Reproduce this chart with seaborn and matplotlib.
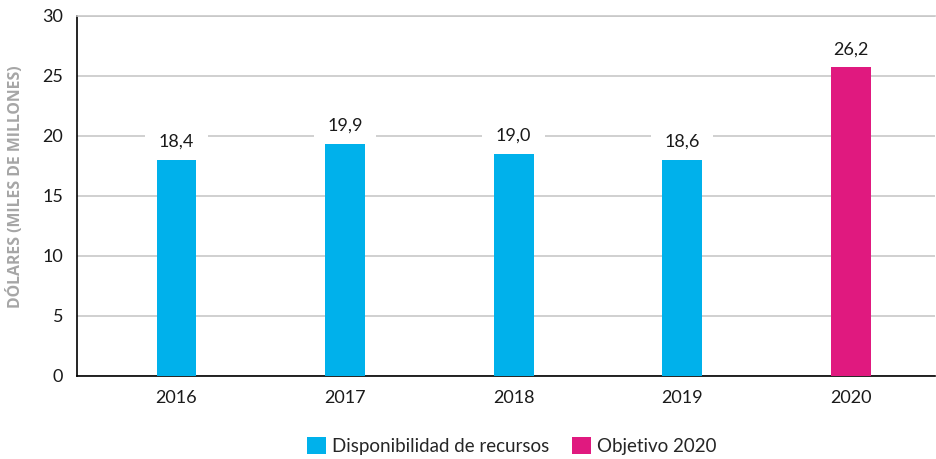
import matplotlib
matplotlib.use("Agg")
import matplotlib.pyplot as plt
import seaborn as sns
import pandas as pd
from matplotlib.patches import Patch

# datos
anios = ["2016", "2017", "2018", "2019", "2020"]
alturas = [18.0, 19.3, 18.5, 18.0, 25.7]
etiquetas = ["18,4", "19,9", "19,0", "18,6", "26,2"]
series = ["Disponibilidad de recursos"] * 4 + ["Objetivo 2020"]
colores = {"Disponibilidad de recursos": "#00B1EB", "Objetivo 2020": "#E0197F"}

df = pd.DataFrame({"anio": anios, "valor": alturas, "serie": series})

sns.set_style("white")
plt.rcParams["font.family"] = ["Lato", "DejaVu Sans"]

fig = plt.figure(figsize=(9.37, 4.59), dpi=100)
ax = fig.add_axes([0.0822, 0.181, 0.9158, 0.785])

ax.set_axisbelow(True)
ax.yaxis.grid(True, color="#C8C8C8", linewidth=1.2, zorder=0)
sns.barplot(data=df, x="anio", y="valor", hue="serie", palette=colores,
            dodge=False, width=0.237, saturation=1, linewidth=0,
            legend=False, ax=ax, zorder=3)

#etiquetas de valor con fondo blanco que tapa la rejilla
for i, (h, lab) in enumerate(zip(alturas, etiquetas)):
    ax.annotate(lab, (i, h), xytext=(0, 13), textcoords="offset points",
                ha="center", va="center", fontsize=13, color="#1A1A1A",
                bbox=dict(boxstyle="square,pad=0.75", fc="white", ec="none"),
                zorder=2)

ax.set_ylim(0, 30)
ax.set_xlim(-0.59, 4.5)
ax.set_yticks(range(0, 31, 5))
ax.set_xlabel("")
ax.set_ylabel("DÓLARES (MILES DE MILLONES)", fontsize=11.4, fontweight="bold",
              color="#A6A6A6", family=["Open Sans", "DejaVu Sans"])
ax.yaxis.set_label_coords(-0.062, 0.525)
ax.tick_params(axis="both", length=0, labelsize=13, colors="#1A1A1A")
ax.tick_params(axis="y", pad=10)
ax.tick_params(axis="x", pad=10)

for s in ["left", "bottom"]:
    ax.spines[s].set_color("black")
    ax.spines[s].set_linewidth(1.2)
ax.spines["right"].set_visible(False)
ax.spines["top"].set_color("#C8C8C8")
ax.spines["top"].set_linewidth(1.2)

handles = [Patch(facecolor=colores[k], edgecolor="none") for k in colores]
fig.legend(handles, list(colores.keys()), loc="center", bbox_to_anchor=(0.546, 0.028),
           ncol=2, frameon=False, fontsize=13.5, handlelength=1.05, handleheight=1.05,
           handletextpad=0.3, columnspacing=1.2)

fig.savefig("out.png", dpi=100)
